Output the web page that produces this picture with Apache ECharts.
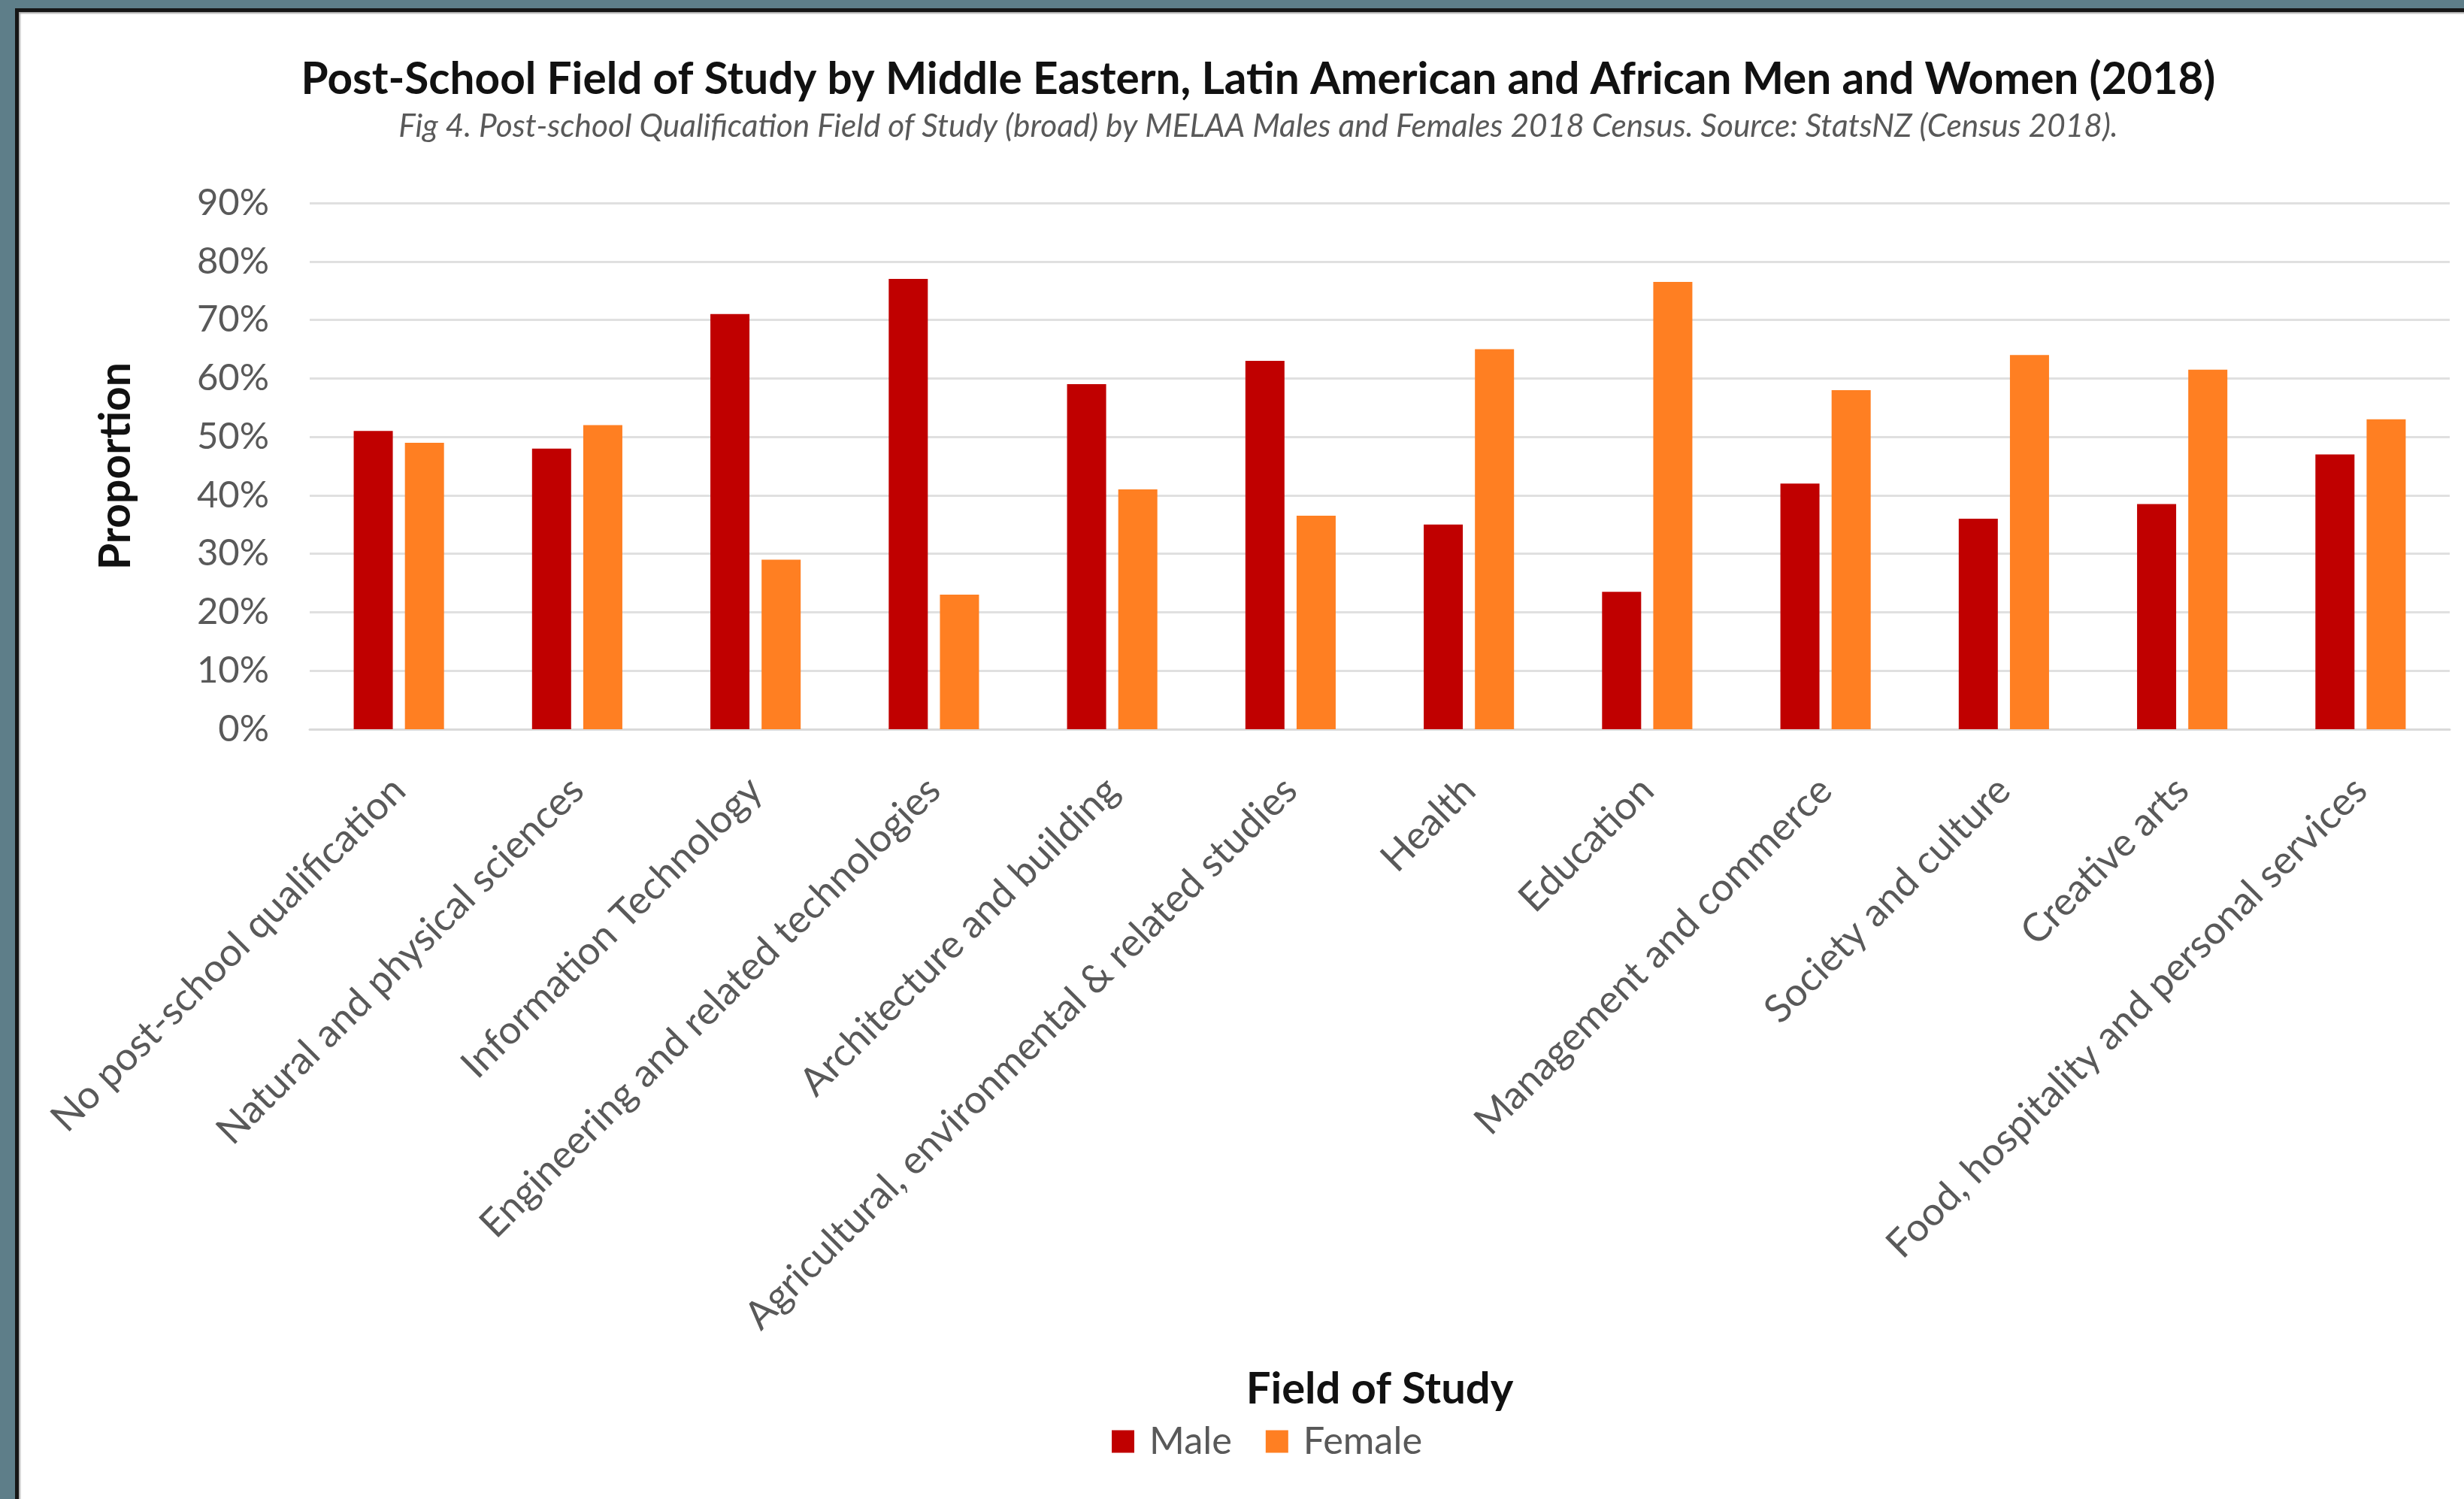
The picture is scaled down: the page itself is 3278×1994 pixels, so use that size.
<!DOCTYPE html>
<html><head><meta charset="utf-8">
<script src="https://cdn.jsdelivr.net/npm/echarts@6/dist/echarts.min.js"></script>
<style>
html,body{margin:0;padding:0;width:3278px;height:1994px;overflow:hidden;background:#5e7e89;}
#paper{position:absolute;left:20px;top:11px;right:0;bottom:0;background:#fff;border-left:5px solid #161616;border-top:5px solid #161616;box-shadow: inset 2px 2px 2px rgba(0,0,0,0.35);}
#chart{position:absolute;left:0;top:0;width:3278px;height:1994px;}
</style></head><body><div id="paper"></div><div id="chart"></div>
<script>
const categories = [
  "No post-school qualification",
  "Natural and physical sciences",
  "Information Technology",
  "Engineering and related technologies",
  "Architecture and building",
  "Agricultural, environmental & related studies",
  "Health",
  "Education",
  "Management and commerce",
  "Society and culture",
  "Creative arts",
  "Food, hospitality and personal services"
];
const seriesNames = ["Male", "Female"];
const maleValues   = [51, 48, 71, 77, 59, 63, 35, 23.5, 42, 36, 38.5, 47];
const femaleValues = [49, 52, 29, 23, 41, 36.5, 65, 76.5, 58, 64, 61.5, 53];
const yMin = 0, yMax = 90, yInterval = 10;
const titleText = "Post-School Field of Study by Middle Eastern, Latin American and African Men and Women (2018)";
const subtitleText = "Fig 4. Post-school Qualification Field of Study (broad) by MELAA Males and Females 2018 Census. Source: StatsNZ (Census 2018).";
const xAxisTitle = "Field of Study";
const yAxisTitle = "Proportion";

const FONT = "Lato, 'Open Sans', sans-serif";
const chart = echarts.init(document.getElementById('chart'), null, {renderer: 'canvas'});
chart.setOption({
  backgroundColor: 'transparent',
  animation: false,
  textStyle: {fontFamily: FONT},
  title: [
    {text: titleText, left: 1674, top: 106, textAlign: 'center', textVerticalAlign: 'middle', padding: 0,
     textStyle: {fontFamily: FONT, fontWeight: 'bold', fontSize: 58.5, color: '#111'}},
    {text: subtitleText, left: 1674, top: 168, textAlign: 'center', textVerticalAlign: 'middle', padding: 0,
     textStyle: {fontFamily: FONT, fontStyle: 'italic', fontWeight: 'normal', fontSize: 42.4, color: '#595959'}}
  ],
  legend: {
    data: seriesNames,
    left: 1479, top: 1892, padding: 0,
    icon: 'rect', itemWidth: 30, itemHeight: 30, itemGap: 45,
    textStyle: {fontFamily: FONT, fontSize: 50.5, color: '#595959', padding: [0, 0, 0, 15]}
  },
  grid: {left: 412, right: 19, top: 270, bottom: 1024, containLabel: false},
  xAxis: {
    type: 'category', data: categories,
    name: xAxisTitle, nameLocation: 'middle', nameGap: 878,
    nameTextStyle: {fontFamily: FONT, fontWeight: 'bold', fontSize: 58, color: '#111', verticalAlign: 'middle'},
    axisLine: {show: true, lineStyle: {color: '#d9d9d9', width: 3}},
    axisTick: {show: false},
    axisLabel: {interval: 0, rotate: 45, margin: 73, fontFamily: FONT, fontSize: 52, color: '#595959'}
  },
  yAxis: {
    type: 'value', min: yMin, max: yMax, interval: yInterval,
    name: yAxisTitle, nameLocation: 'middle', nameGap: 257,
    nameTextStyle: {fontFamily: FONT, fontWeight: 'bold', fontSize: 57, color: '#111', verticalAlign: 'middle'},
    axisLine: {show: false}, axisTick: {show: false},
    axisLabel: {formatter: '{value}%', margin: 54, fontFamily: FONT, fontSize: 49, color: '#595959'},
    splitLine: {show: true, lineStyle: {color: '#e0e0e0', width: 3}}
  },
  series: [
    {name: seriesNames[0], type: 'bar', data: maleValues, barWidth: 52, barGap: '31%', itemStyle: {color: '#C00000'}},
    {name: seriesNames[1], type: 'bar', data: femaleValues, barWidth: 52, barGap: '31%', itemStyle: {color: '#FF7F22'}}
  ]
});
</script></body></html>
